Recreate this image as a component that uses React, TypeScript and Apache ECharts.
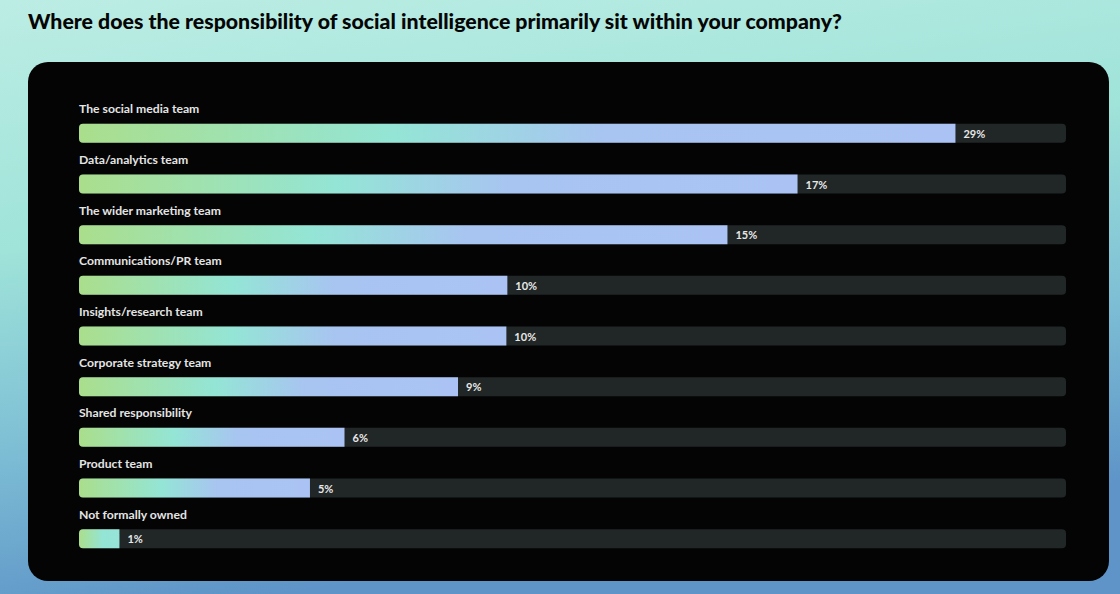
import React, { useEffect, useRef } from "react";
import * as echarts from "echarts";

const TITLE = "Where does the responsibility of social intelligence primarily sit within your company?";

const categories = [
  "The social media team",
  "Data/analytics team",
  "The wider marketing team",
  "Communications/PR team",
  "Insights/research team",
  "Corporate strategy team",
  "Shared responsibility",
  "Product team",
  "Not formally owned",
];

// Percent shown at the end of each bar
const shares = [29, 17, 15, 10, 10, 9, 6, 5, 1];

// Bar length as drawn in the picture, in % of the track width
const barLength = [88.8, 72.8, 65.7, 43.4, 43.3, 38.4, 26.9, 23.4, 4.1];

export default function App() {
  const ref = useRef<HTMLDivElement>(null);

  useEffect(() => {
    document.body.style.margin = "0";
    if (!ref.current) return;
    const chart = echarts.init(ref.current, null, { renderer: "svg" });

    const longGradient = new echarts.graphic.LinearGradient(0, 0, 1, 0, [
      { offset: 0, color: "#aade8c" },
      { offset: 0.36, color: "#94e5d6" },
      { offset: 0.6, color: "#a8c4f1" },
      { offset: 1, color: "#aac3f4" },
    ]);
    const shortGradient = new echarts.graphic.LinearGradient(0, 0, 1, 0, [
      { offset: 0, color: "#aade8c" },
      { offset: 0.6, color: "#94e5d6" },
      { offset: 1, color: "#96e4d8" },
    ]);

    chart.setOption({
      animation: false,
      backgroundColor: new echarts.graphic.LinearGradient(0, 0, 0.25, 1, [
        { offset: 0, color: "#bcede4" },
        { offset: 0.4, color: "#9fe3d9" },
        { offset: 0.7, color: "#7fc0d5" },
        { offset: 1, color: "#5e94c8" },
      ]),
      graphic: [
        {
          type: "rect",
          z: -10,
          shape: { x: 28, y: 62, width: 1081, height: 519, r: 20 },
          style: { fill: "#040404" },
        },
        {
          type: "text",
          left: 28,
          top: 10,
          style: {
            text: TITLE,
            fill: "#050505",
            font: "900 21.3px Lato",
          },
        },
      ],
      grid: { left: 79, right: 54, top: 108, bottom: 30, containLabel: false },
      xAxis: {
        type: "value",
        min: 0,
        max: 100,
        show: false,
      },
      yAxis: {
        type: "category",
        data: categories,
        inverse: true,
        axisLine: { show: false },
        axisTick: { show: false },
        splitLine: { show: false },
        axisLabel: {
          inside: true,
          margin: 0,
          align: "left",
          verticalAlign: "bottom",
          padding: [0, 0, 17, 0],
          lineHeight: 15,
          color: "#e4e4e4",
          fontFamily: "Lato",
          fontWeight: "bold",
          fontSize: 12.2,
        },
      },
      series: [
        {
          type: "bar",
          data: barLength,
          barWidth: 19,
          showBackground: true,
          backgroundStyle: { color: "#212626", borderRadius: 4 },
          itemStyle: {
            color: (p: any) => (barLength[p.dataIndex] < 10 ? shortGradient : longGradient),
            borderRadius: [4, 0, 0, 4],
          },
          label: {
            show: true,
            position: "right",
            distance: 8,
            color: "#e8e8e8",
            fontFamily: "Lato",
            fontWeight: "bold",
            fontSize: 11,
            formatter: (p: any) => shares[p.dataIndex] + "%",
          },
        },
      ],
    });

    return () => chart.dispose();
  }, []);

  return <div ref={ref} style={{ width: 1120, height: 594 }} />;
}
